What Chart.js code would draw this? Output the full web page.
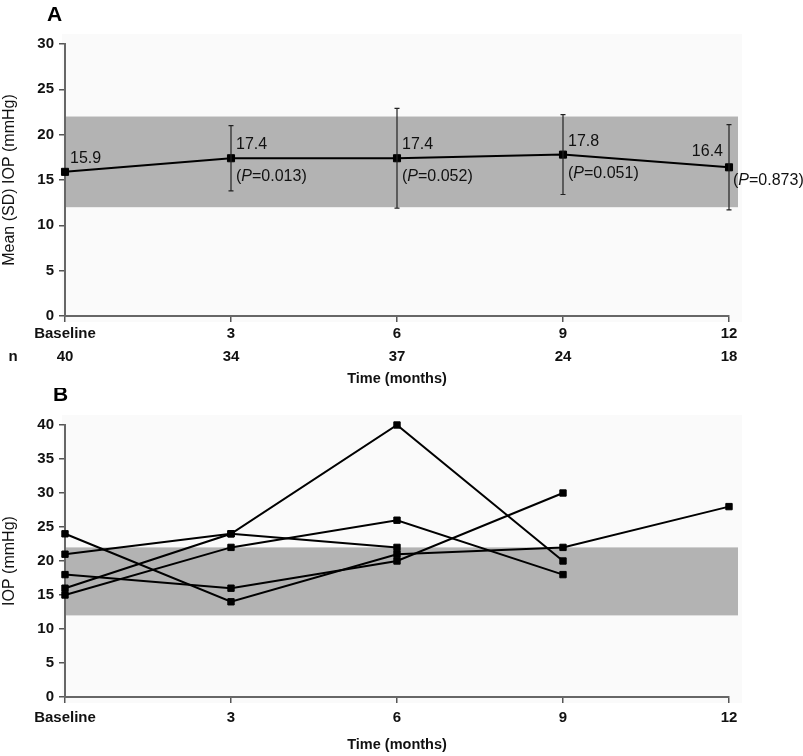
<!DOCTYPE html>
<html>
<head>
<meta charset="utf-8">
<script src="https://cdn.jsdelivr.net/npm/chart.js@4.4.1/dist/chart.umd.min.js"></script>
<style>
  body { margin: 0; background: #fff; }
  .box { position: absolute; left: 0; width: 803px; }
  #boxA { top: 0; height: 388px; }
  #boxB { top: 388px; height: 368px; }
</style>
</head>
<body>
<div class="box" id="boxA"><canvas id="chartA"></canvas></div>
<div class="box" id="boxB"><canvas id="chartB"></canvas></div>
<script>
const FONT = '"Liberation Sans", Arial, sans-serif';

// shared categories
const categories = ['Baseline', '3', '6', '9', '12'];
const nCounts = [40, 34, 37, 24, 18];

// panel A: mean (SD) IOP
const meanIop = [15.9, 17.4, 17.4, 17.8, 16.4];
const sdIop = [null, 3.6, 5.5, 4.4, 4.7];
const pValues = [null, '0.013', '0.052', '0.051', '0.873'];

// normal range band
const normalLow = 12;
const normalHigh = 22;

// panel B: individual patients
const patient1 = [24, 14, 21, 22, 28];
const patient2 = [21, 24, 22, null, null];
const patient3 = [18, 16, 20, 30, null];
const patient4 = [16, 24, 40, 20, null];
const patient5 = [15, 22, 26, 18, null];

// light plot background + grey normal band, drawn before axes
const bandPlugin = {
    id: 'band',
    beforeDraw(chart) {
        const ctx = chart.ctx;
        const a = chart.chartArea;
        const y = chart.scales.y;
        ctx.save();
        ctx.fillStyle = '#fafafa';
        ctx.fillRect(a.left - 3, a.top - 10, a.right - a.left + 16, a.bottom - a.top + 16);
        ctx.fillStyle = '#b3b3b3';
        const top = y.getPixelForValue(normalHigh);
        const bot = y.getPixelForValue(normalLow);
        ctx.fillRect(a.left, top, a.right - a.left + 9, bot - top);
        ctx.restore();
    }
};

function letterPlugin(letter, x, y) {
    return {
        id: 'letter' + letter,
        afterDraw(chart) {
            const ctx = chart.ctx;
            ctx.save();
            ctx.fillStyle = '#000';
            ctx.font = 'bold 21px ' + FONT;
            ctx.textBaseline = 'alphabetic';
            ctx.fillText(letter, x, y);
            ctx.restore();
        }
    };
}

function drawP(ctx, x, y, p) {
    ctx.font = '16px ' + FONT;
    ctx.fillText('(', x, y);
    x += ctx.measureText('(').width;
    ctx.font = 'italic 16px ' + FONT;
    ctx.fillText('P', x, y);
    x += ctx.measureText('P').width;
    ctx.font = '16px ' + FONT;
    ctx.fillText('=' + p + ')', x, y);
}

// error bars, value labels, p values and n row for panel A
const extrasA = {
    id: 'extrasA',
    afterDatasetsDraw(chart) {
        const ctx = chart.ctx;
        const xs = chart.scales.x, ys = chart.scales.y;
        ctx.save();
        ctx.strokeStyle = '#222';
        ctx.lineWidth = 1.2;
        meanIop.forEach((m, i) => {
            if (sdIop[i] == null) return;
            const x = xs.getPixelForValue(i);
            const t = ys.getPixelForValue(m + sdIop[i]);
            const b = ys.getPixelForValue(m - sdIop[i]);
            ctx.beginPath();
            ctx.moveTo(x, t); ctx.lineTo(x, b);
            ctx.moveTo(x - 2.5, t); ctx.lineTo(x + 2.5, t);
            ctx.moveTo(x - 2.5, b); ctx.lineTo(x + 2.5, b);
            ctx.stroke();
        });
        ctx.fillStyle = '#111';
        ctx.textBaseline = 'alphabetic';
        const last = meanIop.length - 1;
        meanIop.forEach((m, i) => {
            const x = xs.getPixelForValue(i);
            const y = ys.getPixelForValue(m);
            ctx.font = '16px ' + FONT;
            if (i === last) {
                ctx.textAlign = 'right';
                ctx.fillText(m.toFixed(1), x - 6, y - 11);
                ctx.textAlign = 'left';
                if (pValues[i]) drawP(ctx, x + 4, y + 18, pValues[i]);
            } else {
                ctx.textAlign = 'left';
                ctx.fillText(m.toFixed(1), x + 5, y - 9);
                if (pValues[i]) drawP(ctx, x + 5, y + 23, pValues[i]);
            }
        });
        // n row
        ctx.font = 'bold 15px ' + FONT;
        ctx.textAlign = 'center';
        ctx.textBaseline = 'middle';
        const ny = ys.getPixelForValue(0) + 41;
        ctx.fillText('n', 13, ny);
        nCounts.forEach((n, i) => {
            ctx.fillText(String(n), xs.getPixelForValue(i), ny);
        });
        ctx.restore();
    }
};

function scalesFor(maxY, yTitle, xHeight, tickPad, titlePad) {
    const tickFont = { family: FONT, size: 15, weight: 'bold' };
    return {
        x: {
            grid: { drawOnChartArea: false, drawTicks: true, tickLength: 6, color: '#555', lineWidth: 1.5 },
            border: { display: true, color: '#666', width: 2 },
            ticks: { color: '#111', font: tickFont, padding: tickPad, maxRotation: 0, autoSkip: false },
            title: { display: true, text: 'Time (months)', color: '#111',
                     font: { family: FONT, size: 14.5, weight: 'bold' }, padding: { top: 0, bottom: titlePad } },
            afterFit: s => { s.height = xHeight; }
        },
        y: {
            min: 0, max: maxY,
            grid: { drawOnChartArea: false, drawTicks: true, tickLength: 6, color: '#555', lineWidth: 1.5 },
            border: { display: true, color: '#666', width: 2 },
            ticks: { stepSize: 5, color: '#111', font: tickFont, padding: 5 },
            title: { display: true, text: yTitle, color: '#111',
                     font: { family: FONT, size: 16 }, padding: { top: 0, bottom: 0 } },
            afterFit: s => { s.width = 65; }
        }
    };
}

new Chart(document.getElementById('chartA'), {
    type: 'line',
    data: {
        labels: categories,
        datasets: [{
            data: meanIop,
            borderColor: '#000',
            borderWidth: 2,
            backgroundColor: '#000',
            pointStyle: 'rect',
            pointRadius: 5,
            pointBorderWidth: 1,
            tension: 0,
            clip: false
        }]
    },
    options: {
        responsive: true,
        maintainAspectRatio: false,
        animation: false,
        events: [],
        layout: { padding: { left: 0, top: 44, right: 74, bottom: 0 } },
        plugins: { legend: { display: false }, tooltip: { enabled: false } },
        scales: scalesFor(30, 'Mean (SD) IOP (mmHg)', 72, 3, 0)
    },
    plugins: [bandPlugin, extrasA, letterPlugin('A', 47, 21)]
});

const patients = [patient1, patient2, patient3, patient4, patient5];

new Chart(document.getElementById('chartB'), {
    type: 'line',
    data: {
        labels: categories,
        datasets: patients.map(p => ({
            data: p,
            borderColor: '#000',
            borderWidth: 2,
            backgroundColor: '#000',
            pointStyle: 'rect',
            pointRadius: 4.5,
            pointBorderWidth: 1,
            tension: 0,
            spanGaps: false,
            clip: false
        }))
    },
    options: {
        responsive: true,
        maintainAspectRatio: false,
        animation: false,
        events: [],
        layout: { padding: { left: 0, top: 37, right: 74, bottom: 0 } },
        plugins: { legend: { display: false }, tooltip: { enabled: false } },
        scales: scalesFor(40, 'IOP (mmHg)', 59, 6, 2)
    },
    plugins: [bandPlugin, letterPlugin('B', 53, 13)]
});
</script>
</body>
</html>
